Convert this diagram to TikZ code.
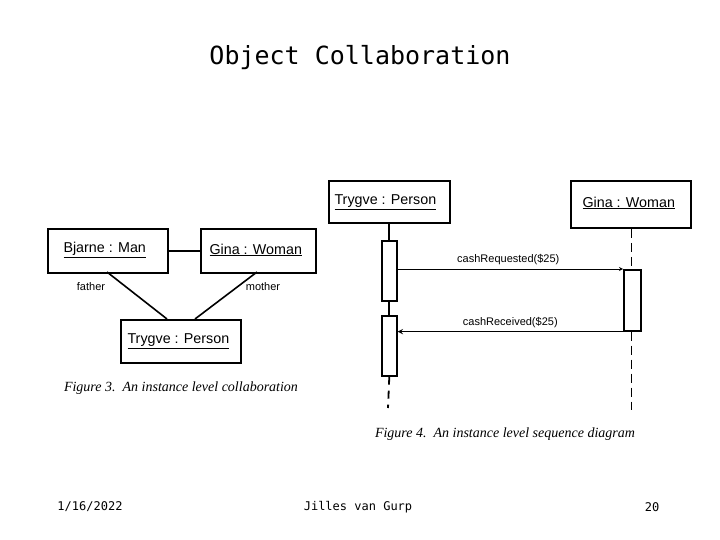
\documentclass[tikz,border=0pt]{standalone}
\usepackage{fontspec}
\setmainfont{Liberation Sans}
\newfontfamily\gothic{DejaVu Sans Mono}
\newfontfamily\capfont{Liberation Serif}
\begin{document}
\begin{tikzpicture}[x=1pt,y=-1pt,
  obj/.style={draw,line width=1.8pt,inner sep=0pt,anchor=north west},
  lab/.style={font=\fontsize{14.3}{15}\selectfont},
  small/.style={font=\fontsize{11}{12}\selectfont},
  figcap/.style={font=\capfont\itshape\fontsize{14}{15}\selectfont},
  foot/.style={font=\gothic\fontsize{12}{13}\selectfont}]
\useasboundingbox (0,0) rectangle (720,540);
\node[font=\gothic\fontsize{25}{28}\selectfont] (title) at (360,58) {Object Collaboration};
% collaboration
\node[obj,minimum width=120pt,minimum height=44pt] (bj) at (47,228) {};
\node[lab,anchor=west] (bjt) at (60,250) {\underline{Bjarne : Man}};
\node[obj,minimum width=115pt,minimum height=44pt] (gi) at (200,228) {};
\node[lab,anchor=west] (git) at (206,250) {\underline{Gina : Woman}};
\node[obj,minimum width=120pt,minimum height=43pt] (tr) at (120,319) {};
\node[lab,anchor=west] (trt) at (124,341) {\underline{Trygve : Person}};
\draw[line width=1.6pt] (bj.east) -- (gi.west);
\coordinate (b1) at (107,272); \coordinate (t1) at (167,319);
\coordinate (g1) at (257,272); \coordinate (t2) at (195,319);
\draw[line width=1.6pt] (b1) -- (t1);
\draw[line width=1.6pt] (g1) -- (t2);
\node[small] (fa) at (91,287) {father};
\node[small] (mo) at (263,287) {mother};
\node[figcap] (c3) at (181,388) {Figure 3.\ \ An instance level collaboration};
% sequence
\node[obj,minimum width=121pt,minimum height=42pt] (sp) at (328,180) {};
\node[lab,anchor=west] (spt) at (331,202) {\underline{Trygve : Person}};
\node[obj,minimum width=120pt,minimum height=47pt] (sg) at (570,180) {};
\node[lab,anchor=west] (sgt) at (579,203) {\underline{Gina : Woman}};
\node[draw,line width=1.6pt,minimum width=15pt,minimum height=60pt,inner sep=0pt,anchor=north west] (a1) at (381,240) {};
\node[draw,line width=1.6pt,minimum width=15pt,minimum height=60pt,inner sep=0pt,anchor=north west] (a2) at (381,315) {};
\node[draw,line width=1.6pt,minimum width=17pt,minimum height=61pt,inner sep=0pt,anchor=north west] (a3) at (623,269) {};
\coordinate (end1) at (388,408);
\coordinate (end2) at (631,410);
\draw[line width=1.8pt] (sp.south -| a1.north) -- (a1.north);
\draw[line width=1.8pt] (a1.south) -- (a2.north);
\draw[line width=1.8pt,dash pattern=on 8pt off 6pt] (a2.south) -- (end1);
\draw[line width=0.8pt,dash pattern=on 9pt off 5pt] (sg.south -| end2) -- (a3.north -| end2);
\draw[line width=0.8pt,dash pattern=on 9pt off 5pt] (a3.south -| end2) -- (end2);
\draw[->,>=stealth,line width=0.8pt] (a1.east |- a3.north) -- (a3.north west) node[small,midway,above,xshift=-2pt] (m1) {cashRequested(\$25)};
\draw[->,>=stealth,line width=1.4pt] (a3.south west) -- (a2.east |- a3.south) node[small,midway,above] (m2) {cashReceived(\$25)};
\node[figcap] (c4) at (505,434) {Figure 4.\ \ An instance level sequence diagram};
% footer
\node[foot] (f1) at (90,507) {1/16/2022};
\node[foot] (f2) at (358,507) {Jilles van Gurp};
\node[foot] (f3) at (652,507) {20};
\end{tikzpicture}
\end{document}
